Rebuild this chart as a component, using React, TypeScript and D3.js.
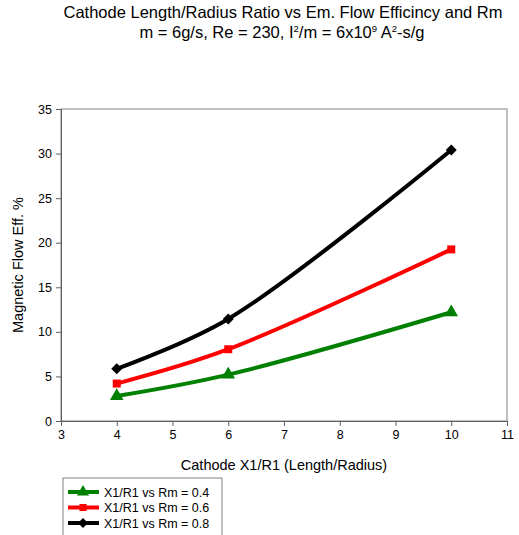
import * as d3 from 'd3';
import React, { useEffect, useRef } from 'react';

const xValues = [4, 6, 10];
const seriesNames = ['X1/R1 vs Rm = 0.4', 'X1/R1 vs Rm = 0.6', 'X1/R1 vs Rm = 0.8'];
const rm04 = [2.8, 5.2, 12.2];
const rm06 = [4.2, 8.05, 19.25];
const rm08 = [5.85, 11.45, 30.4];
const colors = ['#008000', '#ff0000', '#000000'];
const markers = [d3.symbolTriangle, d3.symbolSquare, d3.symbolSquare];
const markerRot = [0, 0, 45];
const xTicks = [3, 4, 5, 6, 7, 8, 9, 10, 11];
const yTicks = [0, 5, 10, 15, 20, 25, 30, 35];

const W = 519;
const H = 535;
const font = '"Liberation Sans", Arial, sans-serif';

const App = () => {
  const svgRef = useRef(null);

  useEffect(() => {
    const svg = d3.select(svgRef.current);
    svg.selectAll('*').remove();

    const x = d3.scaleLinear().domain([3, 11]).range([61, 507]);
    const y = d3.scaleLinear().domain([0, 35]).range([421, 109]);

    // frame
    svg.append('rect')
      .attr('x', 61).attr('y', 109)
      .attr('width', 446).attr('height', 312)
      .attr('fill', 'none').attr('stroke', '#808080').attr('stroke-width', 1);

    const xAxis = svg.append('g')
      .attr('transform', 'translate(0,421)')
      .call(d3.axisBottom(x).tickValues(xTicks).tickSize(5).tickPadding(4));
    const yAxis = svg.append('g')
      .attr('transform', 'translate(61,0)')
      .call(d3.axisLeft(y).tickValues(yTicks).tickSize(5).tickPadding(4));
    [xAxis, yAxis].forEach((g) => {
      g.selectAll('.domain').attr('stroke', '#606060');
      g.selectAll('.tick line').attr('stroke', '#606060');
      g.selectAll('.tick text')
        .attr('font-family', font).attr('font-size', 12.5).attr('fill', '#000');
    });

    const data = [rm04, rm06, rm08];
    const line = d3.line()
      .x((d) => x(d[0]))
      .y((d) => y(d[1]))
      .curve(d3.curveCatmullRom.alpha(0.5));

    data.forEach((vals, i) => {
      const pts = xValues.map((v, j) => [v, vals[j]]);
      svg.append('path')
        .attr('d', line(pts))
        .attr('fill', 'none')
        .attr('stroke', colors[i])
        .attr('stroke-width', 4);
      svg.selectAll(null)
        .data(pts)
        .join('path')
        .attr('transform', (d) => `translate(${x(d[0])},${y(d[1])}) rotate(${markerRot[i]})`)
        .attr('d', d3.symbol().type(markers[i]).size(i === 0 ? 80 : i === 1 ? 64 : 60)())
        .attr('fill', colors[i]);
    });

    // titles
    svg.append('text')
      .attr('font-family', font).attr('font-size', 16.5).attr('text-anchor', 'middle')
      .attr('x', 283).attr('y', 17.5)
      .text('Cathode Length/Radius Ratio vs Em. Flow Efficincy and Rm');
    const l2 = svg.append('text')
      .attr('font-family', font).attr('font-size', 16.5).attr('text-anchor', 'middle')
      .attr('x', 282).attr('y', 38);
    l2.append('tspan').text('m = 6g/s, Re = 230, I');
    l2.append('tspan').attr('font-size', 9.5).attr('dy', -6.5).text('2');
    l2.append('tspan').attr('dy', 6.5).text('/m = 6x10');
    l2.append('tspan').attr('font-size', 9.5).attr('dy', -6.5).text('9');
    l2.append('tspan').attr('dy', 6.5).text(' A');
    l2.append('tspan').attr('font-size', 9.5).attr('dy', -6.5).text('2');
    l2.append('tspan').attr('dy', 6.5).text('-s/g');

    svg.append('text')
      .attr('font-family', font).attr('font-size', 14.5).attr('text-anchor', 'middle')
      .attr('x', 284).attr('y', 470)
      .text('Cathode X1/R1 (Length/Radius)');
    svg.append('text')
      .attr('font-family', font).attr('font-size', 14.5).attr('text-anchor', 'middle')
      .attr('transform', 'translate(23,265) rotate(-90)')
      .text('Magnetic Flow Eff. %');

    // legend
    const lg = svg.append('g');
    lg.append('rect')
      .attr('x', 63).attr('y', 478).attr('width', 159).attr('height', 70)
      .attr('fill', '#fff').attr('stroke', '#808080');
    seriesNames.forEach((name, i) => {
      const cy = 492 + i * 15.5;
      lg.append('line')
        .attr('x1', 68).attr('x2', 99).attr('y1', cy).attr('y2', cy)
        .attr('stroke', colors[i]).attr('stroke-width', 4);
      lg.append('path')
        .attr('transform', `translate(83,${cy}) rotate(${markerRot[i]})`)
        .attr('d', d3.symbol().type(markers[i]).size(i === 0 ? 64 : 50)())
        .attr('fill', colors[i]);
      lg.append('text')
        .attr('font-family', font).attr('font-size', 12.5)
        .attr('x', 104).attr('y', cy + 4.5)
        .text(name);
    });
  }, []);

  return (
    <div style={{ position: 'absolute', left: 0, top: 0 }}>
      <svg ref={svgRef} width={W} height={H} style={{ display: 'block', background: '#fff' }} />
    </div>
  );
};

export default App;
